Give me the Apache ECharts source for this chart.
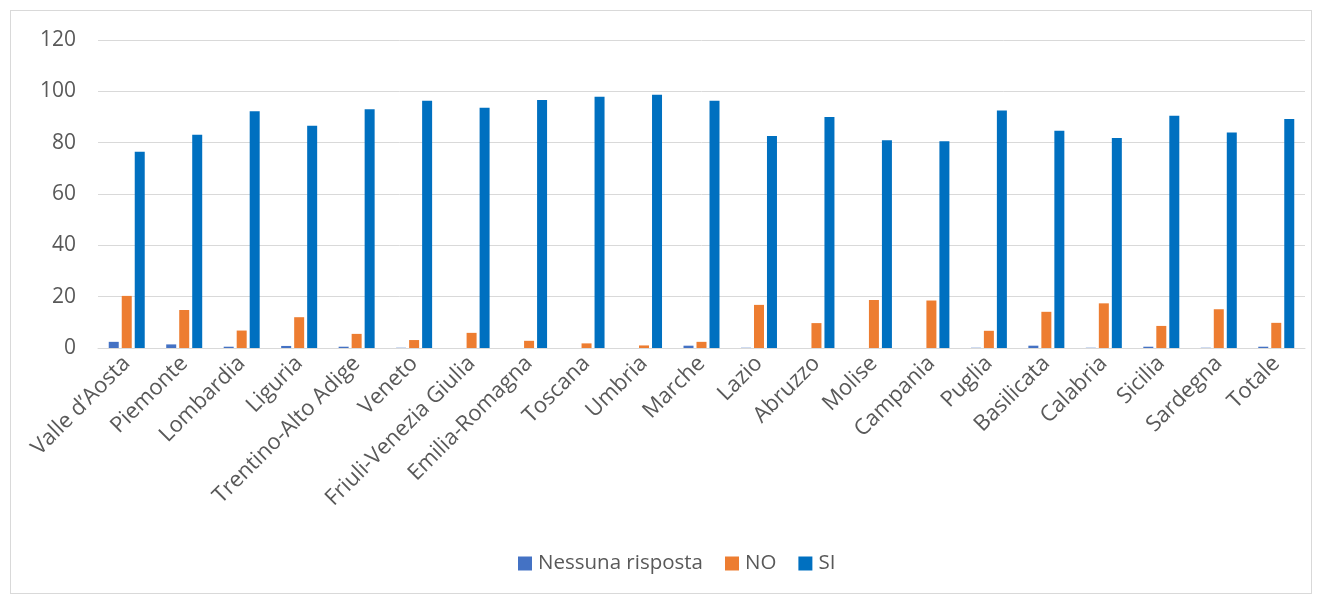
<!DOCTYPE html>
<html>
<head>
<meta charset="utf-8">
<script src="https://cdn.jsdelivr.net/npm/echarts@6/dist/echarts.min.js"></script>
<style>
html,body{margin:0;padding:0;background:#fff;}
#frame{position:absolute;left:10px;top:10px;width:1302px;height:584px;border:1px solid #d9d9d9;box-sizing:border-box;}
#chart{position:absolute;left:0;top:0;width:1322px;height:594px;}
</style>
</head>
<body>
<div id="frame"></div>
<div id="chart"></div>
<script>
const categories = ["Valle d\u2019Aosta","Piemonte","Lombardia","Liguria","Trentino-Alto Adige","Veneto","Friuli-Venezia Giulia","Emilia-Romagna","Toscana","Umbria","Marche","Lazio","Abruzzo","Molise","Campania","Puglia","Basilicata","Calabria","Sicilia","Sardegna","Totale"];
const nessunaRisposta = [2.4,1.4,0.5,0.8,0.5,0.1,0,0,0,0,0.9,0.1,0,0,0,0.1,0.9,0.1,0.5,0.1,0.5];
const noValues = [20.3,14.8,6.8,12.0,5.5,3.1,5.9,2.8,1.8,1.0,2.4,16.8,9.7,18.7,18.5,6.7,14.1,17.4,8.6,15.1,9.8];
const siValues = [76.5,83.1,92.2,86.6,93.0,96.3,93.6,96.6,97.9,98.7,96.3,82.6,90.0,80.9,80.6,92.5,84.6,81.8,90.5,84.0,89.2];
const yTicks = [0,20,40,60,80,100,120];

const font = "'Open Sans', sans-serif";
const chart = echarts.init(document.getElementById('chart'));
chart.setOption({
  animation:false,
  textStyle:{fontFamily:font},
  grid:{left:98,right:17,top:40,bottom:246},
  legend:{
    bottom:15,left:513,
    itemWidth:14,itemHeight:14,itemGap:22,
    icon:'rect',
    textStyle:{fontSize:20.5,color:'#595959',fontFamily:font,padding:[0,0,0,1]},
    data:['Nessuna risposta','NO','SI']
  },
  xAxis:{
    type:'category',data:categories,
    axisLine:{lineStyle:{color:'#d9d9d9',width:1}},
    axisTick:{show:false},
    axisLabel:{rotate:45,fontSize:22,color:'#595959',interval:0,margin:12,fontFamily:font}
  },
  yAxis:{
    type:'value',min:yTicks[0],max:yTicks[yTicks.length-1],interval:20,
    axisLine:{show:false},axisTick:{show:false},
    splitLine:{lineStyle:{color:'#d9d9d9',width:1}},
    axisLabel:{fontSize:21,color:'#595959',margin:22,fontFamily:font}
  },
  series:[
    {name:'Nessuna risposta',type:'bar',data:nessunaRisposta,barWidth:10,barGap:'30%',itemStyle:{color:'#4472C4'}},
    {name:'NO',type:'bar',data:noValues,barWidth:10,barGap:'30%',itemStyle:{color:'#ED7D31'}},
    {name:'SI',type:'bar',data:siValues,barWidth:10,barGap:'30%',itemStyle:{color:'#0070C0'}}
  ]
});
</script>
</body>
</html>
